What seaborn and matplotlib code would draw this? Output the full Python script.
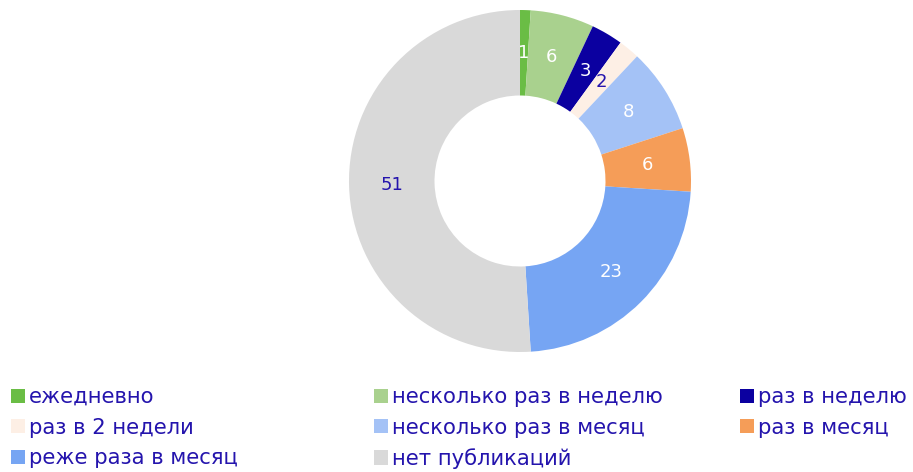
import matplotlib
matplotlib.use("Agg")
import matplotlib.pyplot as plt
from matplotlib.patches import Patch
import seaborn as sns
import numpy as np

categories = ["ежедневно", "несколько раз в неделю", "раз в неделю", "раз в 2 недели",
              "несколько раз в месяц", "раз в месяц", "реже раза в месяц", "нет публикаций"]
values = [1, 6, 3, 2, 8, 6, 23, 51]
colors = ["#6abd45", "#a9d18e", "#0b00a0", "#fdefe5", "#a4c2f6", "#f59d58", "#76a5f3", "#d9d9d9"]
label_colors = ["white", "white", "white", "#2414ad", "white", "white", "white", "#2414ad"]

sns.set_style("white")
plt.rcParams["font.family"] = ["DejaVu Sans"]
text_color = "#2414ad"

W, H = 913, 472
fig = plt.figure(figsize=(W / 100, H / 100), dpi=100)
cx, cy, R = 520, 181, 171
ax = fig.add_axes([(cx - R) / W, (H - cy - R) / H, 2 * R / W, 2 * R / H])

wedges, _ = ax.pie(values, colors=colors, startangle=90, counterclock=False,
                   radius=1.0, wedgeprops=dict(width=0.5, linewidth=0))
ax.set_xlim(-1, 1)
ax.set_ylim(-1, 1)
ax.set_aspect("equal")

total = sum(values)
ang = 90.0
for v, lc in zip(values, label_colors):
    mid = ang - v / total * 360 / 2
    r = 0.75
    ax.text(r * np.cos(np.radians(mid)), r * np.sin(np.radians(mid)), str(v),
            ha="center", va="center", fontsize=13, color=lc)
    ang -= v / total * 360

cols = [[0, 3, 6], [1, 4, 7], [2, 5]]
xs = [11, 374, 740]
for col, x in zip(cols, xs):
    handles = [Patch(facecolor=colors[i], edgecolor="none") for i in col]
    labels = [categories[i] for i in col]
    leg = fig.legend(handles, labels, loc="upper left",
                     bbox_to_anchor=(x / W, 1 - 387 / H), frameon=False,
                     fontsize=15.2, handlelength=0.65, handleheight=0.65,
                     handletextpad=0.2, labelspacing=0.5, borderpad=0,
                     borderaxespad=0)
    for t in leg.get_texts():
        t.set_color(text_color)

fig.savefig("out.png", dpi=100)
